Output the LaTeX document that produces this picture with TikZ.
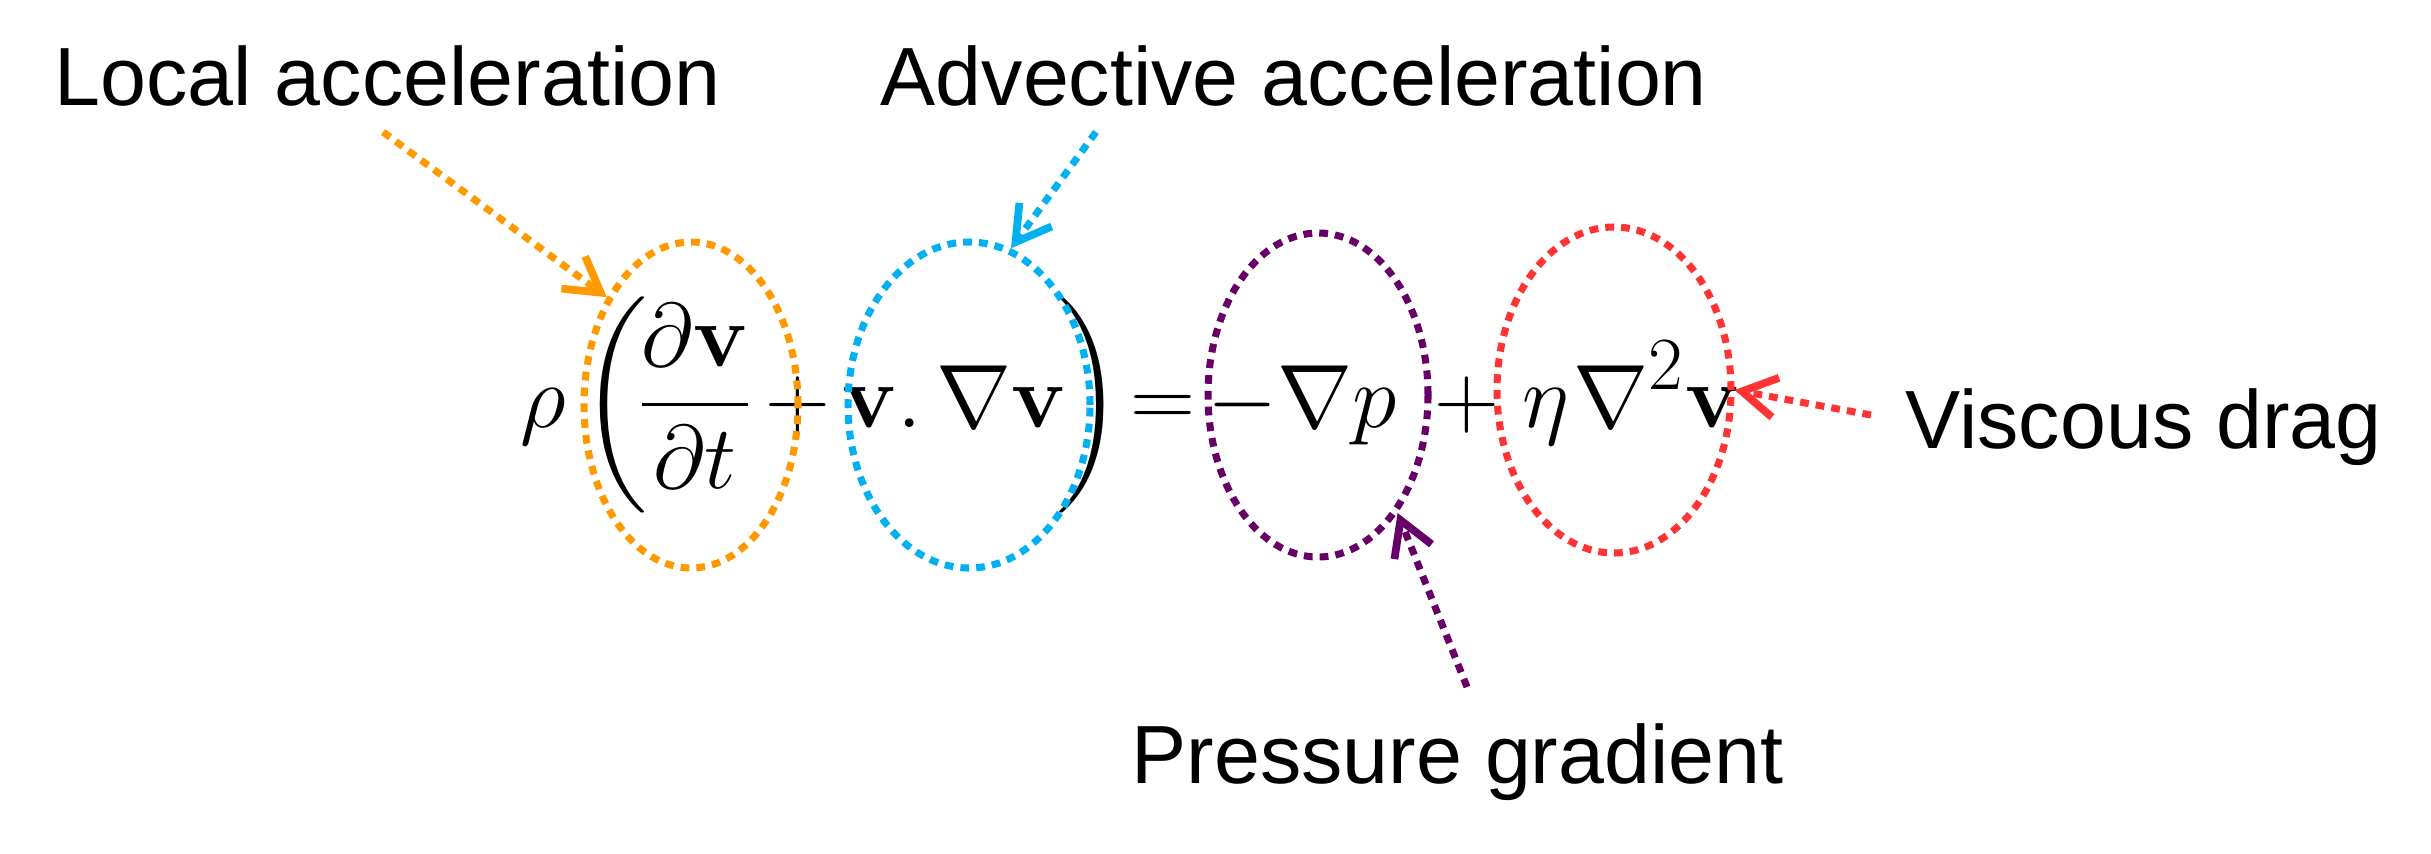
\documentclass[tikz,border=0pt]{standalone}
\usepackage{amsmath,amssymb}
\usepackage[no-math]{fontspec}
\usepackage{tikz}
\usetikzlibrary{arrows.meta,positioning,shapes.geometric}
\newfontfamily\labfont{Liberation Sans}
\definecolor{corange}{RGB}{255,153,0}
\definecolor{cblue}{RGB}{0,176,240}
\definecolor{cpurple}{RGB}{102,0,102}
\definecolor{cred}{RGB}{255,51,51}
\tikzset{
  lab/.style={anchor=base west, inner sep=0pt, font=\labfont\fontsize{23.5}{28}\selectfont},
  eqn/.style={anchor=base west, inner sep=0pt, font=\fontsize{24.88}{30}\selectfont,
              scale=1.03, transform shape},
  ring/.style={ellipse, draw, line width=2pt, dash pattern=on 2.5pt off 2pt, inner sep=0pt},
  ptr/.style={-{Straight Barb[length=3.4mm,width=4mm,line width=2.2pt]},
              line width=2pt, dash pattern=on 2.5pt off 2pt},
}
\begin{document}
\begin{tikzpicture}
  \useasboundingbox (0,0) rectangle (24.31,8.53);
  % the equation
  \node[eqn] (eq) at (5.20,4.26)
    {\medmuskip=2.5mu\thickmuskip=2.5mu$\displaystyle \rho\mkern3mu\bigg(\mkern-2mu\frac{\partial\mathbf{v}}{\partial t}+\mathbf{v}.\,\nabla\mathbf{v}\mkern-2mu\bigg)\mkern-1mu=-\nabla p\mkern5mu+\mkern2mu\eta\mkern1mu\nabla^{2}\mathbf{v}$};
  % rings round the terms
  \node[ring, corange, minimum width=2.14cm, minimum height=3.26cm] (locE) at (6.91,4.48) {};
  \node[ring, cblue, minimum width=2.42cm, minimum height=3.26cm] (advE) at (9.69,4.48) {};
  \node[ring, cpurple, minimum width=2.20cm, minimum height=3.24cm] (presE) at (13.18,4.58) {};
  \node[ring, cred, minimum width=2.34cm, minimum height=3.26cm] (viscE) at (16.14,4.63) {};
  % labels
  \node[lab] (loc) at (0.54,7.48) {Local acceleration};
  \node[lab] (adv) at (8.80,7.48) {Advective acceleration};
  \node[lab] (pres) at (11.31,0.70) {Pressure gradient};
  \node[lab] (visc) at (19.05,4.05) {Viscous drag};
  % pointers
  \coordinate (locS) at (3.83,7.21);
  \coordinate (advS) at (10.96,7.21);
  \coordinate (presS) at (14.67,1.66);
  \coordinate (viscS) at (18.71,4.38);
  \draw[ptr, corange] (locS) -- (locE.128);
  \draw[ptr, cblue] (advS) -- (advE.75);
  \draw[ptr, cpurple] (presS) -- (presE.-56);
  \draw[ptr, cred] (viscS) -- (viscE.east);
\end{tikzpicture}
\end{document}
